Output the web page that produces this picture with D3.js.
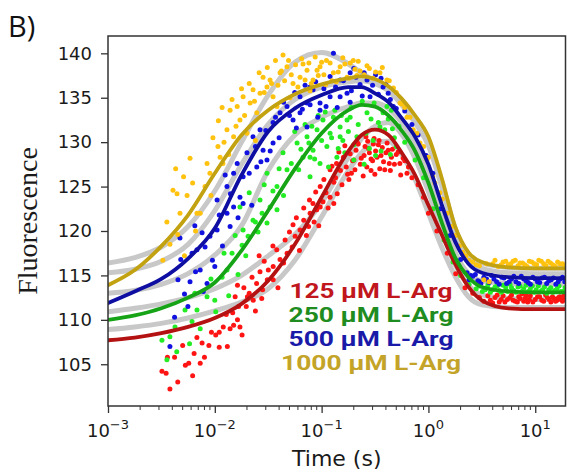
<!DOCTYPE html>
<html>
<head>
<meta charset="utf-8">
<script src="https://cdn.jsdelivr.net/npm/d3@7"></script>
<style>
  body { margin: 0; background: #fff; }
  svg { display: block; }
</style>
</head>
<body>
<svg id="chart" width="567" height="475"></svg>
<script>
// ---- data -------------------------------------------------------------
const seriesLabels = ["125 µM L-Arg", "250 µM L-Arg", "500 µM L-Arg", "1000 µM L-Arg"];
const yTickValues = [105, 110, 115, 120, 125, 130, 135, 140];
const xMajorTicks = [1e-3, 1e-2, 1e-1, 1, 10];
const xTickExponents = ["\u22123", "\u22122", "\u22121", "0", "1"];

// sample times (s) of the fitted curves
const fitTimes = [0.001, 0.00178, 0.00316, 0.00562, 0.01, 0.0178, 0.0316, 0.0562, 0.1,
  0.178, 0.237, 0.316, 0.422, 0.562, 0.75, 1, 1.33, 1.78, 2.37, 3.16, 5.62, 10, 19.2];

// per-concentration fits (coloured)
const fit125  = [107.7,108.0,108.5,109.2,110.2,111.8,114.4,118.5,123.8,129.0,130.8,131.4,130.8,128.8,126.3,122.9,119.6,116.3,113.7,112.2,111.3,111.2,111.2];
const fit250  = [110.0,110.5,111.3,112.5,114.2,117.8,122.3,127.0,131.0,133.6,134.2,134.0,133.0,131.3,129.0,125.4,121.0,117.0,114.8,113.7,113.2,113.1,113.1];
const fit500  = [111.9,113.2,114.6,116.9,120.3,126.3,131.2,133.8,135.3,136.2,136.2,135.5,134.5,132.7,130.6,127.5,123.0,118.8,116.3,115.3,114.8,114.7,114.7];
const fit1000 = [113.9,115.6,118.3,121.8,126.5,130.8,133.6,135.4,136.5,137.2,137.4,137.1,136.3,134.9,133.0,130.6,126.0,120.5,117.6,116.5,115.9,115.8,115.8];

// alternative-model fits (grey)
const grey1 = [116.4,117.0,118.2,120.5,124.5,130.0,135.3,139.0,140.1,138.8,137.8,136.8,135.8,134.4,132.6,130.2,125.6,120.3,117.4,116.4,115.9,115.8,115.8];
const grey2 = [115.3,115.7,116.6,118.5,122.3,127.5,132.0,134.8,136.2,136.8,136.9,136.6,135.8,134.2,132.2,129.6,125.0,119.6,116.8,115.8,115.3,115.2,115.2];
const grey3 = [113.0,113.3,114.0,115.2,117.3,120.6,126.8,130.8,132.8,134.0,134.4,134.4,133.8,132.2,129.8,126.5,122.0,117.6,115.2,114.4,114.1,114.0,114.0];
const grey4 = [110.9,111.3,111.8,112.5,113.5,115.0,117.2,119.6,123.2,128.3,130.4,131.8,132.2,130.9,128.2,124.4,120.0,116.2,113.9,112.8,112.4,112.3,112.3];
const grey5 = [108.9,109.2,109.6,110.2,111.0,112.0,113.5,116.7,121.6,126.8,128.8,130.0,130.1,128.6,125.8,122.0,118.2,114.9,112.6,111.7,111.4,111.4,111.4];

// measured traces [time (s), fluorescence]
const obs125 = [
  [0.0032,104.2],[0.0035,104.0],[0.0038,102.2],[0.0045,103.0],[0.0036,105.8],[0.0042,105.8],[0.0053,104.9],[0.0057,105.1],
  [0.0050,107.1],[0.0064,106.2],[0.0073,105.1],[0.0080,105.8],[0.0076,107.4],[0.0093,108.6],[0.0102,108.3],[0.0110,108.6],
  [0.0131,107.0],[0.0120,109.2],[0.0139,109.0],[0.0150,109.4],[0.0163,110.0],[0.0147,110.8],[0.0172,109.2],[0.0180,108.3],
  [0.0197,111.5],[0.0167,111.5],[0.0202,112.6],[0.0163,113.9],[0.0187,113.6],[0.0229,112.2],[0.0223,114.8],[0.0246,114.1],
  [0.0275,112.4],[0.0280,113.4],[0.0265,115.4],[0.0310,114.5],[0.0317,115.6],[0.0352,114.5],[0.0352,116.0],[0.0408,116.8],
  [0.0475,117.5],[0.0380,117.9],[0.0455,119.0],[0.0530,118.2],[0.0565,119.4],[0.0628,120.1],[0.0540,120.7],[0.0680,121.2],
  [0.0755,120.5],[0.0780,122.0],[0.090,122.4],[0.083,123.1],[0.097,122.7],[0.103,123.3],[0.130,123.1],
  [0.077,123.5],[0.097,125.0],[0.120,126.9],[0.138,127.6],[0.160,128.3],[0.190,126.5],[0.210,129.1],[0.255,129.5],
  [0.34,129.7],[0.42,129.1],[0.54,127.6],[0.63,126.5],[0.11,124.3],[0.13,125.5],[0.15,126.8],[0.17,127.2],[0.20,128.0],
  [0.23,127.5],[0.25,128.5],[0.28,128.8],[0.30,127.9],[0.32,129.0],[0.36,128.5],[0.38,127.8],[0.40,128.8],[0.45,128.3],
  [0.48,127.5],[0.50,128.6],[0.22,129.8],[0.27,130.1],[0.31,130.4],[0.29,126.8],[0.35,127.0],[0.44,126.8],[0.60,127.9],
  [0.70,126.0],[0.18,125.8],[0.14,124.2],[0.12,123.8],
  [0.105,125.8],[0.115,122.6],[0.125,127.3],[0.135,126.0],[0.145,128.9],[0.155,125.2],[0.165,129.6],[0.175,126.4],
  [0.185,128.7],[0.195,127.9],[0.205,126.9],[0.215,130.0],[0.235,128.2],[0.245,126.2],[0.26,130.6],[0.265,127.2],
  [0.275,129.3],[0.29,128.1],[0.305,129.8],[0.315,126.4],[0.33,128.3],[0.345,130.2],[0.37,129.4],[0.39,126.9],
  [0.41,129.9],[0.43,127.6],[0.46,129.2],[0.52,128.9],[0.55,126.3],[0.58,128.2],[0.65,127.2],[0.068,122.6],
  [0.072,119.5],[0.085,121.0],[0.088,124.4],[0.094,120.6],[0.058,121.5],[0.062,117.8],[0.050,119.9],[0.044,116.4],
  [0.039,113.6],[0.035,118.3],[0.029,116.6],[0.026,117.2],[0.024,111.0],[0.021,113.0],[0.0155,112.6],[0.0128,110.6],
  [0.011,106.9],[0.0088,107.1],[0.0068,108.0],[0.0062,103.7],
  [0.80,125.2],[0.90,123.8],[1.0,122.0],[1.2,120.0],[1.5,117.5],[1.8,115.2],[2.2,113.6],[2.6,113.0],[3.0,112.5],[3.3,112.1],
  [3.8,112.2],[4.2,112.5],[4.6,112.0],[5.0,112.7],[5.5,112.3],[6.0,112.8],[6.5,112.1],[7.0,112.6],[7.5,112.9],[8.0,112.4],
  [8.5,112.0],[9.0,112.7],[10,112.3],[11,112.6],[12,112.1],[13,112.5],[14,112.0],[15,112.4],[16,112.2],[17,112.6],[18,112.1],[19,112.3],
  [3.6,112.7],[4.0,111.9],[4.4,112.8],[4.8,112.3],[5.2,112.0],[5.8,112.5],[6.2,112.2],[6.8,112.0],[7.2,112.4],[7.8,112.1],
  [8.2,112.7],[8.8,112.3],[9.5,112.0],[10.5,112.6],[11.5,112.2],[12.5,112.8],[13.5,112.3],[14.5,112.6],[15.5,112.1],[16.5,112.5],
  [17.5,112.3],[18.5,112.7]
];
const obs250 = [
  [0.0032,107.7],[0.00356,105.5],[0.0038,108.1],[0.00424,109.2],[0.00526,111.1],[0.00612,109.8],[0.00681,111.1],[0.0073,109.0],
  [0.00846,112.6],[0.0100,112.2],[0.0102,110.9],[0.0117,114.8],[0.0130,115.6],[0.0145,117.5],[0.0165,115.1],[0.0180,118.4],
  [0.0184,120.1],[0.0205,119.4],[0.0228,121.2],[0.0254,119.9],[0.0277,122.0],[0.0308,120.9],[0.0329,122.7],[0.0382,122.4],
  [0.0172,122.7],[0.0265,123.5],[0.0308,126.5],[0.0382,125.0],[0.0435,128.8],[0.0474,126.9],[0.0589,129.9],[0.067,128.3],
  [0.073,130.6],[0.0831,129.1],[0.0906,131.4],[0.0966,127.6],[0.103,132.5],[0.120,131.0],[0.129,132.8],[0.139,128.3],
  [0.149,131.7],[0.158,130.2],[0.173,132.5],[0.0779,128.3],[0.0779,126.1],[0.112,129.5],[0.149,130.6],[0.185,132.8],
  [0.214,130.6],[0.266,133.3],[0.303,130.2],[0.352,131.7],[0.376,133.3],[0.409,134.0],[0.46,131.5],[0.50,129.5],
  [0.44,128.6],[0.32,128.5],[0.25,127.5],[0.20,128.0],
  [0.052,127.6],[0.056,131.2],[0.061,126.9],[0.064,129.2],[0.070,132.0],[0.076,129.9],[0.081,131.8],[0.086,128.1],
  [0.093,133.0],[0.100,130.2],[0.108,133.4],[0.116,127.2],[0.124,130.5],[0.133,133.6],[0.143,129.3],[0.153,133.0],
  [0.165,128.8],[0.178,131.2],[0.19,133.9],[0.20,129.7],[0.22,132.0],[0.24,134.6],[0.26,131.0],[0.28,129.3],
  [0.29,132.6],[0.31,134.4],[0.34,132.2],[0.36,129.0],[0.39,131.4],[0.42,132.6],[0.45,133.6],[0.48,130.5],[0.53,131.8],
  [0.044,124.0],[0.040,127.0],[0.035,124.5],[0.029,125.2],[0.024,121.0],[0.021,124.3],[0.0195,117.2],[0.0155,119.5],
  [0.0135,112.7],[0.0122,117.5],[0.0092,114.6],[0.0065,113.0],[0.0058,107.3],[0.0044,106.4],
  [0.60,130.0],[0.75,128.0],[0.90,126.0],[1.1,122.5],[1.4,119.0],[1.7,116.5],[2.0,115.0],[2.4,114.0],
  [2.8,113.5],[3.2,113.2],[3.6,113.9],[4.0,113.4],[4.4,113.8],[4.8,113.1],[5.3,113.6],[5.8,114.0],[6.3,113.3],[6.9,113.7],
  [7.5,113.2],[8.2,113.9],[9.0,113.5],[9.8,113.1],[10.7,113.8],[11.7,113.4],[12.8,113.0],[14,113.6],[15.3,113.3],[16.7,113.8],[18.2,113.2],
  [3.0,113.8],[3.4,113.4],[3.8,113.1],[4.2,113.7],[4.6,113.3],[5.0,113.9],[5.5,113.2],[6.0,113.6],[6.6,113.1],[7.2,113.8],
  [7.8,113.5],[8.6,113.2],[9.4,113.8],[10.2,113.4],[11.2,113.2],[12.2,113.7],[13.4,113.4],[14.6,113.1],[16,113.5],[17.4,113.2],[19,113.6]
];
const obs500 = [
  [0.0038,107.0],[0.00452,114.5],[0.0056,111.5],[0.00586,114.3],[0.0073,115.6],[0.0076,119.8],[0.00472,119.2],[0.00612,117.5],
  [0.00681,117.9],[0.0081,118.2],[0.0090,119.4],[0.00846,114.1],[0.0100,116.0],[0.0105,120.1],[0.0130,122.0],[0.0139,120.5],
  [0.0150,122.7],[0.0184,123.1],[0.0222,122.9],[0.0105,123.5],[0.0130,125.0],[0.0150,126.5],[0.0162,127.6],[0.0184,126.1],
  [0.0200,128.8],[0.0228,130.6],[0.0265,131.4],[0.0283,129.1],[0.0351,132.2],[0.0408,133.3],[0.0474,134.0],[0.054,132.5],
  [0.0628,135.1],[0.073,134.4],[0.0831,135.9],[0.0966,133.6],[0.120,135.1],[0.129,140.0],[0.149,137.0],[0.173,135.5],
  [0.0351,129.9],[0.0247,127.2],[0.0172,123.8],[0.0308,128.0],[0.185,137.8],[0.0779,136.2],[0.0966,134.4],[0.149,135.1],
  [0.266,137.0],[0.376,136.2],[0.284,135.1],[0.0628,133.3],[0.073,131.7],[0.185,134.5],[0.47,134.0],[0.229,136.5],
  [0.32,137.6],[0.42,135.5],[0.50,133.8],[0.20,138.3],[0.12,137.4],
  [0.021,126.5],[0.024,129.5],[0.027,127.8],[0.030,131.3],[0.033,129.0],[0.037,132.8],[0.040,130.5],[0.044,134.5],
  [0.050,133.0],[0.056,135.6],[0.058,131.6],[0.066,133.7],[0.070,136.4],[0.078,134.2],[0.088,136.8],[0.092,132.8],
  [0.105,136.0],[0.110,134.0],[0.135,136.2],[0.140,133.9],[0.160,136.9],[0.190,135.8],[0.21,137.3],[0.24,135.2],
  [0.25,137.8],[0.30,136.4],[0.34,135.4],[0.36,137.2],[0.40,136.5],[0.44,134.8],[0.0165,121.5],[0.014,124.2],
  [0.0118,118.3],[0.011,121.8],[0.0095,116.7],[0.0078,113.2],[0.0066,115.4],[0.0052,112.9],[0.0048,116.8],[0.0042,110.3],
  [0.0125,126.3],[0.0065,120.6],
  [0.60,133.5],[0.70,132.0],[0.80,130.8],[0.95,128.5],[1.1,126.5],[1.3,122.5],[1.6,119.5],[2.0,116.8],[2.5,115.0],[3.0,114.3],
  [2.3,115.3],[2.6,114.9],[2.9,114.4],[3.3,114.8],[3.7,114.2],[4.1,114.6],[4.6,114.0],[5.1,114.7],[5.7,114.3],[6.3,114.9],
  [7.0,114.1],[7.8,114.6],[8.6,114.2],[9.5,114.8],[10.5,114.3],[11.6,114.7],[12.8,114.1],[14.1,114.5],[15.6,114.0],[17.2,114.6],[18.9,114.3],
  [2.4,114.5],[2.75,115.1],[3.1,114.1],[3.5,114.6],[3.9,115.0],[4.35,114.3],[4.85,114.8],[5.4,114.1],[6.0,114.6],[6.6,114.3],
  [7.4,114.9],[8.2,114.4],[9.0,114.0],[10,114.6],[11,114.2],[12.2,114.8],[13.4,114.4],[14.8,114.7],[16.4,114.3],[18,114.8]
];
const obs1000 = [
  [0.00356,121.0],[0.00406,124.6],[0.00443,124.2],[0.00472,122.0],[0.00586,128.2],[0.0073,122.0],[0.00846,127.6],[0.0090,126.5],
  [0.0107,129.5],[0.0112,128.3],[0.0119,127.6],[0.0130,131.4],[0.0139,133.6],[0.0150,130.6],[0.0162,134.0],[0.0172,132.5],
  [0.0184,135.1],[0.0214,134.4],[0.0228,135.9],[0.0247,133.3],[0.0265,135.5],[0.0283,137.3],[0.0308,136.2],[0.0329,137.0],
  [0.0351,135.1],[0.0408,137.8],[0.0435,139.8],[0.0474,138.5],[0.054,136.6],[0.0628,137.3],[0.067,138.8],[0.073,138.1],
  [0.0831,137.0],[0.0966,138.5],[0.111,139.2],[0.129,137.8],[0.149,138.5],[0.173,137.3],[0.00326,116.7],[0.0051,126.1],
  [0.00681,122.0],[0.0906,138.1],[0.185,138.9],[0.198,139.2],[0.352,137.8],[0.409,137.0],[0.47,136.1],[0.542,134.4],
  [0.63,132.8],[0.72,131.4],[0.834,129.9],[0.97,128.0],[1.10,126.1],[1.28,124.3],[0.673,132.8],[0.78,131.0],[0.90,129.5],
  [1.0,128.3],[0.229,138.0],[0.266,138.6],[0.303,137.2],[0.214,137.5],[0.158,139.5],[0.137,136.8],[0.109,136.5],
  [0.0779,135.8],[0.0506,135.0],[0.0382,134.0],[0.020,131.0],[0.024,130.2],[0.0096,130.5],[0.0081,125.0],[0.0055,124.0],[0.0038,118.5],
  [0.0108,132.4],[0.0122,130.0],[0.0135,128.6],[0.0145,134.8],[0.0158,131.8],[0.0178,136.0],[0.019,133.0],[0.021,136.6],
  [0.0235,134.6],[0.026,137.8],[0.029,135.6],[0.031,138.4],[0.034,136.6],[0.037,139.2],[0.039,136.4],[0.042,138.0],
  [0.045,136.9],[0.049,139.2],[0.052,137.6],[0.057,138.7],[0.060,136.2],[0.065,139.4],[0.070,137.0],[0.076,138.9],
  [0.080,136.6],[0.087,139.6],[0.093,137.5],[0.100,139.0],[0.105,137.6],[0.120,138.9],[0.125,136.9],[0.143,137.9],
  [0.165,138.8],[0.180,137.2],[0.205,138.2],[0.22,139.1],[0.25,137.6],[0.28,138.3],[0.32,137.9],[0.37,138.4],
  [0.43,136.9],[0.50,135.6],[0.56,134.3],[0.60,133.9],[0.0045,119.6],[0.0062,125.4],[0.0066,120.0],[0.0092,124.0],
  [0.0043,127.0],[0.0052,117.2],[0.0117,133.9],
  [1.15,125.4],[1.35,123.6],[1.5,122.0],[1.65,120.5],[1.8,119.5],[1.95,118.3],[2.1,117.6],[2.25,117.2],[2.4,116.7],
  [2.6,116.5],[2.8,116.2],[3.0,116.1],[3.3,114.5],[3.5,116.3],[3.7,114.3],
  [4.0,116.3],[4.5,116.0],[5.0,116.5],[5.6,116.2],[6.2,116.6],[6.9,116.1],[7.6,116.4],[8.4,116.0],[9.3,116.5],[10.3,116.2],
  [11.4,116.6],[12.6,116.1],[13.9,116.4],[15.4,116.0],[17.0,116.3],[18.8,116.1],
  [4.2,116.7],[4.8,116.2],[5.3,116.6],[5.9,116.3],[6.5,116.7],[7.2,116.4],[8.0,116.2],[8.8,116.6],[9.8,116.3],[10.8,116.7],
  [12,116.3],[13.2,116.6],[14.6,116.2],[16.2,116.5],[18,116.3]
];

// ---- layout -----------------------------------------------------------
const svg = d3.select("#chart");
const plot = { left: 108, right: 565.5, top: 36, bottom: 406 };

const x = d3.scaleLog().domain([1e-3, 19.2]).range([plot.left, plot.right]);
const y = d3.scaleLinear().domain([100.3, 141.95]).range([plot.bottom, plot.top]);

svg.append("defs").append("clipPath").attr("id", "plot-clip")
  .append("rect")
  .attr("x", plot.left).attr("y", plot.top)
  .attr("width", plot.right - plot.left).attr("height", plot.bottom - plot.top);

const marks = svg.append("g").attr("clip-path", "url(#plot-clip)");

const line = d3.line()
  .x(d => x(d[0]))
  .y(d => y(d[1]))
  .curve(d3.curveMonotoneX);

const toPoints = vals => fitTimes.map((t, i) => [t, vals[i]]);

// grey model curves underneath everything
[grey1, grey2, grey3, grey4, grey5].forEach(vals => {
  marks.append("path")
    .attr("d", line(toPoints(vals)))
    .attr("fill", "none")
    .attr("stroke", "#c8c8c8")
    .attr("stroke-width", 5)
    .attr("stroke-linecap", "round");
});

// measured points
const dotColors = ["#ff1414", "#24ec24", "#1212e0", "#ffc20e"];
[obs125, obs250, obs500, obs1000].forEach((obs, i) => {
  marks.append("g").selectAll("circle")
    .data(obs)
    .join("circle")
    .attr("cx", d => x(d[0]))
    .attr("cy", d => y(d[1]))
    .attr("r", 2.5)
    .attr("fill", dotColors[i]);
});

// coloured fits on top
const fitColors = ["#b41212", "#16a416", "#0e0ea2", "#c2a210"];
[fit125, fit250, fit500, fit1000].forEach((vals, i) => {
  marks.append("path")
    .attr("d", line(toPoints(vals)))
    .attr("fill", "none")
    .attr("stroke", fitColors[i])
    .attr("stroke-width", 3.8)
    .attr("stroke-linecap", "round");
});

// ---- frame & axes -----------------------------------------------------
svg.append("rect")
  .attr("x", plot.left).attr("y", plot.top)
  .attr("width", plot.right - plot.left).attr("height", plot.bottom - plot.top)
  .attr("fill", "none").attr("stroke", "#333").attr("stroke-width", 1.5);

const yAxis = svg.append("g")
  .attr("transform", `translate(${plot.left},0)`)
  .call(d3.axisLeft(y).tickValues(yTickValues).tickSize(7).tickPadding(9).tickFormat(d3.format("d")));
yAxis.select(".domain").remove();
yAxis.selectAll("line").attr("stroke", "#333").attr("stroke-width", 1.3);
yAxis.selectAll("text")
  .attr("font-family", "DejaVu Sans, sans-serif")
  .attr("font-size", 18)
  .attr("fill", "#1a1a1a");

// minor ticks of the log axis
const minorTicks = [];
for (let e = -3; e <= 1; e++) {
  for (let k = 2; k <= 9; k++) {
    const v = k * Math.pow(10, e);
    if (v <= x.domain()[1]) minorTicks.push(v);
  }
}
svg.append("g").selectAll("line")
  .data(minorTicks)
  .join("line")
  .attr("x1", d => x(d)).attr("x2", d => x(d))
  .attr("y1", plot.bottom).attr("y2", plot.bottom + 4)
  .attr("stroke", "#333").attr("stroke-width", 1);

const xAxis = svg.append("g")
  .attr("transform", `translate(0,${plot.bottom})`)
  .call(d3.axisBottom(x).tickValues(xMajorTicks).tickSize(7).tickFormat(""));
xAxis.select(".domain").remove();
xAxis.selectAll("line").attr("stroke", "#333").attr("stroke-width", 1.3);

const xLabels = svg.append("g").selectAll("text")
  .data(xMajorTicks)
  .join("text")
  .attr("x", d => x(d))
  .attr("y", 437)
  .attr("text-anchor", "middle")
  .attr("font-family", "DejaVu Sans, sans-serif")
  .attr("font-size", 18)
  .attr("fill", "#1a1a1a");
xLabels.append("tspan").text("10");
xLabels.append("tspan")
  .attr("dy", -8)
  .attr("font-size", 13)
  .text((d, i) => xTickExponents[i]);

// ---- titles -----------------------------------------------------------
svg.append("text")
  .attr("x", (plot.left + plot.right) / 2)
  .attr("y", 466)
  .attr("text-anchor", "middle")
  .attr("font-family", "DejaVu Sans, sans-serif")
  .attr("font-size", 22)
  .attr("fill", "#1a1a1a")
  .text("Time (s)");

svg.append("text")
  .attr("transform", "translate(37,221) rotate(-90)")
  .attr("text-anchor", "middle")
  .attr("font-family", "Liberation Serif, Times New Roman, serif")
  .attr("font-size", 28)
  .attr("fill", "#1a1a1a")
  .text("Fluorescence");

svg.append("text")
  .attr("x", 8)
  .attr("y", 37)
  .attr("font-family", "Open Sans, sans-serif")
  .attr("font-size", 29)
  .attr("fill", "#111")
  .text("B)");

// ---- legend -----------------------------------------------------------
const legendColors = ["#c0161c", "#1e8c1e", "#1a1aa8", "#c4a428"];
const legendWidths = [163, 165, 165, 180];
svg.append("g").selectAll("text")
  .data(seriesLabels)
  .join("text")
  .attr("x", 371)
  .attr("y", (d, i) => 298 + i * 24)
  .attr("text-anchor", "middle")
  .attr("font-family", "Roboto, sans-serif")
  .attr("font-weight", 700)
  .attr("font-size", 20)
  .attr("textLength", (d, i) => legendWidths[i])
  .attr("lengthAdjust", "spacingAndGlyphs")
  .attr("fill", (d, i) => legendColors[i])
  .text(d => d);
</script>
</body>
</html>
